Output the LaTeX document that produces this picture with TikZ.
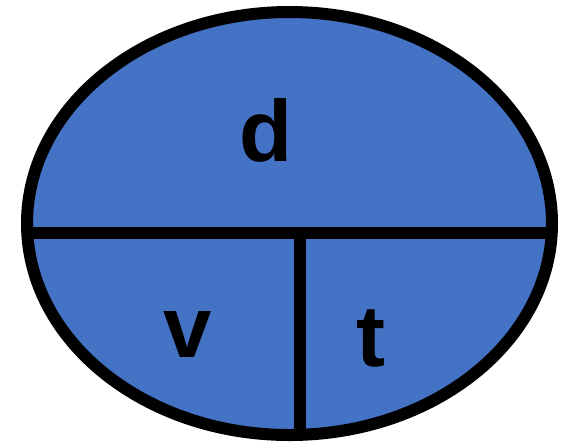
\documentclass[tikz,border=0pt]{standalone}
\usepackage{fontspec}
\setmainfont{Liberation Sans}
\definecolor{fillblue}{HTML}{4472C4}
\tikzset{
  outline/.style={draw=black, line width=12pt},
  divider/.style={draw=black, line width=12pt},
  letter/.style={inner sep=0pt, anchor=base, font=\fontsize{87}{87}\selectfont\bfseries}
}
\begin{document}
\begin{tikzpicture}[x=1pt,y=-1pt]
\useasboundingbox (0,0) rectangle (569,445);
\begin{scope}
  \clip (289.5,223.5) ellipse [x radius=262.5, y radius=211.5];
  \fill[fillblue] (289.5,223.5) ellipse [x radius=262.5, y radius=211.5];
  \coordinate (hl) at (0,233);
  \coordinate (hr) at (569,233);
  \coordinate (vt) at (300,233);
  \coordinate (vb) at (300,445);
  \draw[divider] (hl) -- (hr);
  \draw[divider] (vt) -- (vb);
\end{scope}
\draw[outline] (289.5,223.5) ellipse [x radius=262.5, y radius=211.5];
\node[letter] (d) at (266.5,161) {d};
\node[letter] (v) at (187.5,357) {v};
\node[letter] (t) at (371,366) {t};
\end{tikzpicture}
\end{document}
